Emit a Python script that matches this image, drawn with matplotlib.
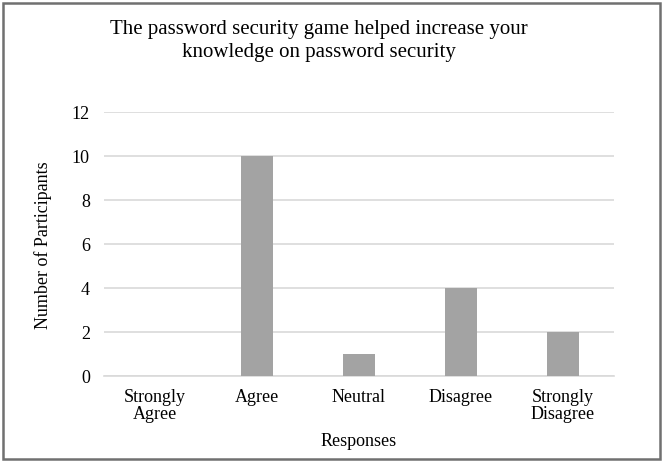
import matplotlib.pyplot as plt
from matplotlib.patches import Rectangle

categories = ["Strongly\nAgree", "Agree", "Neutral", "Disagree", "Strongly\nDisagree"]
participants = [0, 10, 1, 4, 2]
y_ticks = [0, 2, 4, 6, 8, 10, 12]

plt.rcParams["font.family"] = ["Liberation Serif", "DejaVu Serif"]

fig = plt.figure(figsize=(6.65, 4.64), dpi=100)
ax = fig.add_axes([0.156, 0.1875, 0.767, 0.569])

x = range(len(categories))
ax.bar(x, participants, width=0.31, color="#a3a3a3", zorder=3)

ax.set_xlim(-0.5, len(categories) - 0.5)
ax.set_ylim(0, 12)
ax.set_yticks(y_ticks)
ax.set_xticks(list(x))
ax.set_xticklabels(categories, fontsize=13, linespacing=0.95)
ax.tick_params(axis="y", labelsize=13, length=0, pad=10)
ax.tick_params(axis="x", length=0, pad=9)
ax.grid(axis="y", color="#d9d9d9", linewidth=1.2, zorder=0)
for side in ["top", "right", "left"]:
    ax.spines[side].set_visible(False)
ax.spines["bottom"].set_color("#d9d9d9")
ax.spines["bottom"].set_linewidth(1.2)

ax.set_ylabel("Number of Participants", fontsize=13, labelpad=14)
ax.set_xlabel("Responses", fontsize=13, labelpad=7)

fig.text(0.48, 0.912, "The password security game helped increase your\nknowledge on password security",
         ha="center", va="center", fontsize=15, linespacing=1.3)

fig.patches.append(Rectangle((0.005, 0.008), 0.988, 0.984, transform=fig.transFigure,
                             fill=False, edgecolor="#707070", linewidth=1.8))

fig.savefig("out.png", dpi=100)
